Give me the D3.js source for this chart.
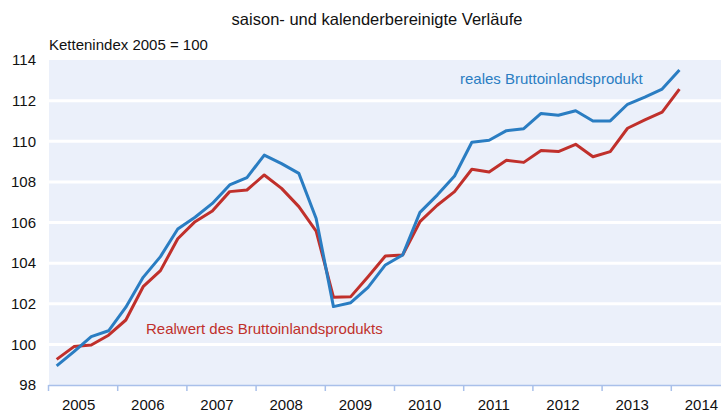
<!DOCTYPE html>
<html>
<head>
<meta charset="utf-8">
<script src="https://cdn.jsdelivr.net/npm/d3@7"></script>
<style>
  body { margin: 0; background: #fff; }
  svg { display: block; font-family: "Liberation Sans", Arial, sans-serif; }
</style>
</head>
<body>
<div id="chart"></div>
<script>
// data: quarterly, 2005Q1 .. 2014Q1
const years = [2005, 2006, 2007, 2008, 2009, 2010, 2011, 2012, 2013, 2014];
const quarters = [];
years.forEach(y => [1, 2, 3, 4].forEach(q => { if (y < 2014 || q === 1) quarters.push(y + "Q" + q); }));

const realesBIP = [98.94, 99.64, 100.38, 100.67, 101.83, 103.3, 104.32, 105.68, 106.26, 106.94,
  107.85, 108.21, 109.32, 108.9, 108.42, 106.2, 101.86, 102.05, 102.81, 103.91,
  104.4, 106.5, 107.35, 108.29, 109.95, 110.05, 110.52, 110.62, 111.37, 111.28,
  111.5, 111.0, 111.0, 111.82, 112.17, 112.57, 113.51];
const realwertBIP = [99.26, 99.89, 99.97, 100.45, 101.2, 102.84, 103.63, 105.2, 106.04, 106.57,
  107.52, 107.6, 108.34, 107.68, 106.78, 105.58, 102.32, 102.35, 103.33, 104.35,
  104.4, 106.04, 106.85, 107.52, 108.62, 108.49, 109.06, 108.96, 109.54, 109.49,
  109.85, 109.24, 109.49, 110.64, 111.05, 111.43, 112.57];
const yTicks = [98, 100, 102, 104, 106, 108, 110, 112, 114];

const width = 721, height = 412;
const margin = { top: 60, right: 0, bottom: 27, left: 48 };

const svg = d3.select("#chart").append("svg")
  .attr("width", width)
  .attr("height", height);

// time as fractional year, points at middle of each quarter
const t = q => +q.slice(0, 4) + (+q.slice(5) - 0.5) / 4;

const x = d3.scaleLinear()
  .domain([2005, 2015])
  .range([margin.left, 740]);
const y = d3.scaleLinear()
  .domain([98, 114])
  .range([height - margin.bottom, margin.top]);

// plot background
svg.append("rect")
  .attr("x", x(2005) + 1)
  .attr("y", y(114))
  .attr("width", width - x(2005))
  .attr("height", y(98) - y(114))
  .attr("fill", "#ebf0fa");

// gridlines
svg.append("g")
  .selectAll("line")
  .data(yTicks.filter(d => d > 98 && d < 114))
  .join("line")
  .attr("x1", x(2005) + 1)
  .attr("x2", width)
  .attr("y1", d => y(d))
  .attr("y2", d => y(d))
  .attr("stroke", "#fff")
  .attr("stroke-width", 3);

// y axis labels
svg.append("g")
  .attr("transform", `translate(${margin.left - 12},0)`)
  .call(d3.axisLeft(y).tickValues(yTicks).tickSize(0).tickPadding(0))
  .call(g => g.select(".domain").remove())
  .selectAll("text")
  .attr("font-size", 15)
  .attr("font-family", "Liberation Sans, Arial, sans-serif")
  .attr("fill", "#111");

// x axis, labels between ticks
const halfYear = (x(2006) - x(2005)) / 2;
const xAxis = svg.append("g")
  .attr("transform", `translate(0,${y(98)})`)
  .call(d3.axisBottom(x).tickValues(years.concat([2015])).tickFormat(d3.format("d")).tickSize(6).tickSizeOuter(0).tickPadding(8));
xAxis.select(".domain").attr("stroke", "#a9c0ea").attr("stroke-width", 1.5);
xAxis.selectAll(".tick line").attr("stroke", "#a9c0ea").attr("stroke-width", 1.5);
xAxis.selectAll(".tick text")
  .attr("dx", halfYear - 4.5)
  .attr("font-size", 15)
  .attr("font-family", "Liberation Sans, Arial, sans-serif")
  .attr("fill", "#111")
  .filter(d => d === 2015).remove();

// lines
const line = d3.line()
  .x((d, i) => x(t(quarters[i])))
  .y(d => y(d));

svg.append("path")
  .datum(realwertBIP)
  .attr("d", line)
  .attr("fill", "none")
  .attr("stroke", "#c0302b")
  .attr("stroke-width", 3)
  .attr("stroke-linejoin", "round");

svg.append("path")
  .datum(realesBIP)
  .attr("d", line)
  .attr("fill", "none")
  .attr("stroke", "#2a7dc2")
  .attr("stroke-width", 3)
  .attr("stroke-linejoin", "round");

// texts
svg.append("text")
  .attr("x", 377).attr("y", 25)
  .attr("text-anchor", "middle")
  .attr("font-size", 16.5)
  .attr("fill", "#111")
  .text("saison- und kalenderbereinigte Verläufe");

svg.append("text")
  .attr("x", 49).attr("y", 50)
  .attr("font-size", 15)
  .attr("fill", "#111")
  .text("Kettenindex 2005 = 100");

svg.append("text")
  .attr("x", 460).attr("y", 84)
  .attr("font-size", 15)
  .attr("fill", "#2a7dc2")
  .text("reales Bruttoinlandsprodukt");

svg.append("text")
  .attr("x", 146).attr("y", 334)
  .attr("font-size", 15)
  .attr("fill", "#c0302b")
  .text("Realwert des Bruttoinlandsprodukts");
</script>
</body>
</html>
